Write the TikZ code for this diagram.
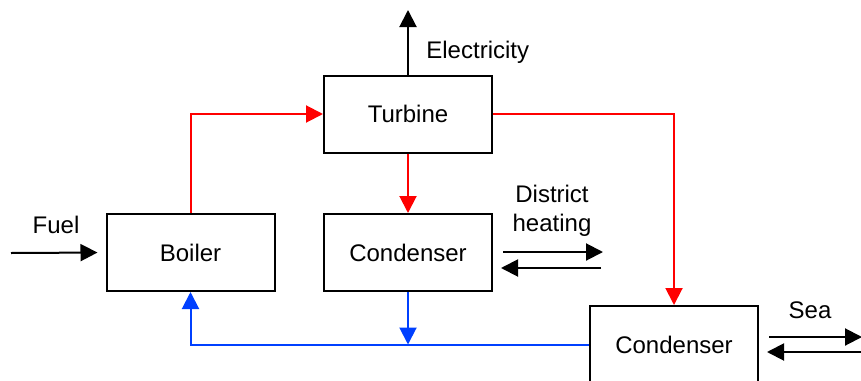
\documentclass[tikz,border=0pt]{standalone}
\usepackage{fontspec}
\setmainfont{Liberation Sans}
\usepackage{tikz}
\usetikzlibrary{positioning,arrows.meta,calc}

\begin{document}
\begin{tikzpicture}[
      x=0.5pt, y=-0.5pt,
      font=\fontsize{12}{14.5}\selectfont,
      box/.style={rectangle, draw, line width=1pt,
        minimum width=84pt, minimum height=38.5pt, align=center, inner sep=2pt},
      flow/.style={-{Triangle[length=8.5pt, width=8.5pt]}, line width=1pt},
      lbl/.style={align=center, inner sep=0pt},
    ]
    \definecolor{steamred}{RGB}{255,0,0}
    \definecolor{waterblue}{RGB}{0,64,255}
    \useasboundingbox (0,0) rectangle (861,380);

    \node[box] (turbine) at (408,114)   {Turbine};
    \node[box] (boiler)  at (190.5,252.5) {Boiler};
    \node[box] (cond)    at (408,252.5) {Condenser};
    \node[box] (seacond) at (674,344.5) {Condenser};

    \node[lbl, anchor=west] (elecl) at (426,52)  {Electricity};
    \node[lbl]              (fuell) at (56,225)  {Fuel};
    \node[lbl]              (dhl)   at (552,211) {District\\heating};
    \node[lbl]              (seal)  at (810,310) {Sea};

    \coordinate (elecout) at (408,10);
    \coordinate (fuelin)  at (11,253);
    \coordinate (join)    at (cond.south |- seacond.west);
    \coordinate (dhout1) at (503,252);
    \coordinate (dhout2) at (603,252);
    \coordinate (dhin1)  at (601,268);
    \coordinate (dhin2)  at (501,268);
    \coordinate (seaout1) at (769,337);
    \coordinate (seaout2) at (862,337);
    \coordinate (seain1)  at (862,352);
    \coordinate (seain2)  at (767,352);

    % steam
    \draw[flow, steamred] (boiler.north) |- (turbine.west);
    \draw[flow, steamred] (turbine.south) -- (cond.north);
    \draw[flow, steamred] (turbine.east) -| (seacond.north);

    % feed water
    \draw[flow, waterblue] (seacond.west) -| (boiler.south);
    \draw[flow, waterblue] (cond.south) -- (join);

    \draw[flow] (turbine.north) -- (elecout);
    \draw[flow, shorten >=4pt] (fuelin) -- (boiler.west);
    \draw[flow] (dhout1) -- (dhout2);
    \draw[flow] (dhin1) -- (dhin2);
    \draw[flow] (seaout1) -- (seaout2);
    \draw[flow] (seain1) -- (seain2);
  \end{tikzpicture}
\end{document}
